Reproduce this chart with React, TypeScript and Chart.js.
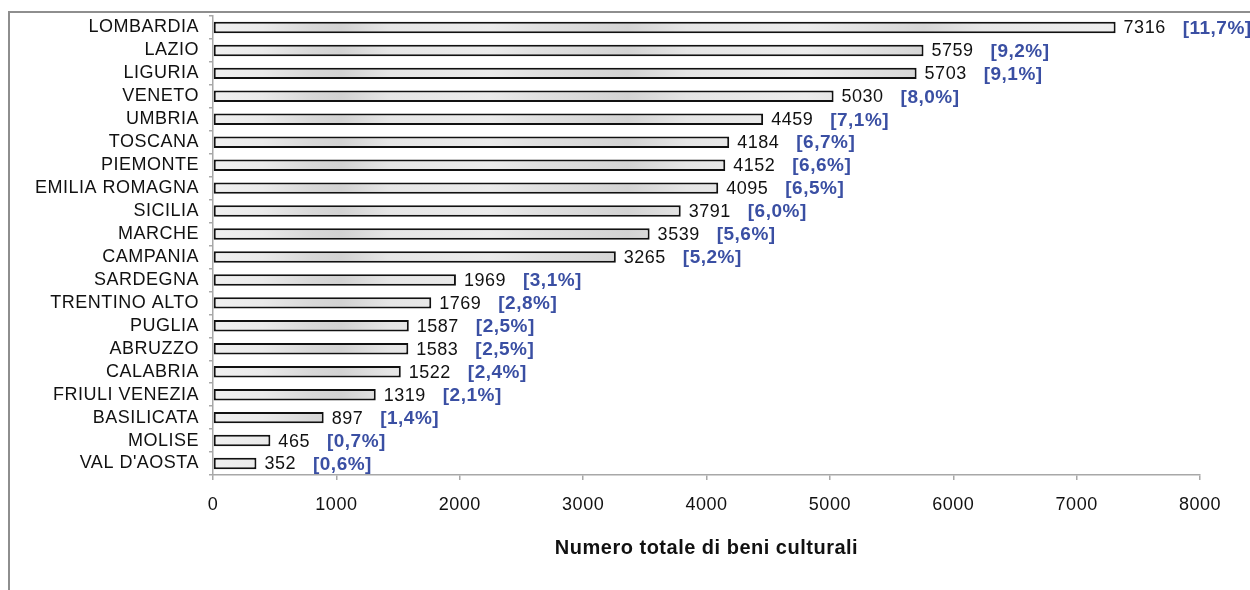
import React, { useEffect, useRef } from "react";
import { Chart, registerables } from "chart.js";

Chart.register(...registerables);

// Regions, ordered by number of cultural assets
const regions: string[] = [
  "LOMBARDIA",
  "LAZIO",
  "LIGURIA",
  "VENETO",
  "UMBRIA",
  "TOSCANA",
  "PIEMONTE",
  "EMILIA ROMAGNA",
  "SICILIA",
  "MARCHE",
  "CAMPANIA",
  "SARDEGNA",
  "TRENTINO ALTO",
  "PUGLIA",
  "ABRUZZO",
  "CALABRIA",
  "FRIULI VENEZIA",
  "BASILICATA",
  "MOLISE",
  "VAL D'AOSTA",
];

// Total cultural assets per region
const totals: number[] = [
  7316, 5759, 5703, 5030, 4459, 4184, 4152, 4095, 3791, 3539, 3265, 1969, 1769,
  1587, 1583, 1522, 1319, 897, 465, 352,
];

// Share of the national total (percent, Italian decimal comma)
const shares: string[] = [
  "11,7", "9,2", "9,1", "8,0", "7,1", "6,7", "6,6", "6,5", "6,0", "5,6", "5,2",
  "3,1", "2,8", "2,5", "2,5", "2,4", "2,1", "1,4", "0,7", "0,6",
];

const xTickMax = 8000;
const xTickStep = 1000;
const xTitle = "Numero totale di beni culturali";

const FONT = "'Liberation Sans', Arial, Helvetica, sans-serif";
const TEXT = "#111111";
const SHARE_BLUE = "#3a4fa3";
const AXIS_GREY = "#a8a8a8";
const TRACKING = "0.5px";

// Slightly wider tracking on every piece of canvas text
const trackingPlugin = {
  id: "tracking",
  beforeUpdate(chart: any) {
    chart.ctx.letterSpacing = TRACKING;
  },
  beforeDraw(chart: any) {
    chart.ctx.letterSpacing = TRACKING;
  },
};

// Value and share labels to the right of each bar
const valueLabelsPlugin = {
  id: "valueLabels",
  afterDatasetsDraw(chart: any) {
    const ctx = chart.ctx as CanvasRenderingContext2D;
    const meta = chart.getDatasetMeta(0);
    ctx.save();
    (ctx as any).letterSpacing = TRACKING;
    ctx.textBaseline = "middle";
    ctx.textAlign = "left";
    meta.data.forEach((bar: any, i: number) => {
      const valueText = String(totals[i]);
      const x0 = bar.x + 8;
      ctx.font = `18px ${FONT}`;
      ctx.fillStyle = TEXT;
      ctx.fillText(valueText, x0, bar.y + 1);
      const w = ctx.measureText(valueText).width;
      ctx.font = `bold 19px ${FONT}`;
      ctx.fillStyle = SHARE_BLUE;
      ctx.fillText(`[${shares[i]}%]`, x0 + w + 17, bar.y + 1);
    });
    ctx.restore();
  },
};

// Mottled light-grey fill running along the bars
let cachedFill: CanvasGradient | null = null;
let cachedKey = "";
function barFill(context: any): CanvasGradient | string {
  const chart = context.chart;
  const area = chart.chartArea;
  if (!area) return "#e6e6e6";
  const key = `${area.left}-${area.right}`;
  if (cachedFill && cachedKey === key) return cachedFill;
  const g = chart.ctx.createLinearGradient(area.left, 0, area.right, 0);
  g.addColorStop(0, "#f0f0f0");
  g.addColorStop(0.05, "#eaeaea");
  g.addColorStop(0.1, "#d8d8d8");
  g.addColorStop(0.13, "#d2d2d2");
  g.addColorStop(0.18, "#e6e6e6");
  g.addColorStop(0.28, "#ebebeb");
  g.addColorStop(0.33, "#e0e0e0");
  g.addColorStop(0.42, "#d3d3d3");
  g.addColorStop(0.48, "#e5e5e5");
  g.addColorStop(0.6, "#ececec");
  g.addColorStop(0.72, "#d6d6d6");
  g.addColorStop(0.78, "#e7e7e7");
  g.addColorStop(0.9, "#ededed");
  g.addColorStop(1, "#e8e8e8");
  cachedFill = g;
  cachedKey = key;
  return g;
}

export default function App() {
  const canvasRef = useRef<HTMLCanvasElement | null>(null);

  useEffect(() => {
    const canvas = canvasRef.current;
    if (!canvas) return;
    cachedFill = null;
    const chart = new Chart(canvas, {
      type: "bar",
      data: {
        labels: regions,
        datasets: [
          {
            data: totals,
            backgroundColor: barFill as any,
            borderColor: "#111111",
            borderWidth: 2,
            borderSkipped: false,
            barPercentage: 0.5,
            categoryPercentage: 1,
          },
        ],
      },
      options: {
        indexAxis: "y",
        animation: false,
        responsive: false,
        devicePixelRatio: 1,
        layout: { padding: { left: 0, right: 50, top: 16, bottom: 0 } },
        plugins: {
          legend: { display: false },
          tooltip: { enabled: false },
        },
        scales: {
          x: {
            min: 0,
            max: xTickMax,
            ticks: {
              stepSize: xTickStep,
              padding: 14,
              color: TEXT,
              font: { family: FONT, size: 18 },
              callback: (v: any) => String(v),
            },
            grid: {
              drawOnChartArea: false,
              drawTicks: true,
              tickLength: 5,
              color: AXIS_GREY,
              lineWidth: 1.5,
            },
            border: { display: true, color: AXIS_GREY, width: 1.5 },
            title: {
              display: true,
              text: xTitle,
              color: TEXT,
              font: { family: FONT, size: 20, weight: "bold" },
              padding: { top: 0, bottom: 30 },
            },
            afterFit: (scale: any) => {
              scale.height = 115;
            },
          },
          y: {
            ticks: {
              autoSkip: false,
              padding: 10,
              color: TEXT,
              font: { family: FONT, size: 18 },
            },
            grid: {
              drawOnChartArea: false,
              drawTicks: true,
              tickLength: 4,
              offset: true,
              color: AXIS_GREY,
              lineWidth: 1.5,
            },
            border: { display: true, color: AXIS_GREY, width: 1.5 },
            afterFit: (scale: any) => {
              scale.width = 213;
              scale.paddingTop = 0;
              scale.paddingBottom = 0;
            },
          },
        },
      } as any,
      plugins: [trackingPlugin, valueLabelsPlugin],
    });
    return () => chart.destroy();
  }, []);

  return (
    <div
      style={{
        position: "fixed",
        left: 0,
        top: 0,
        width: 1250,
        height: 590,
        overflow: "hidden",
        background: "#ffffff",
      }}
    >
      <div
        style={{
          position: "absolute",
          left: 8,
          top: 11,
          width: 1400,
          height: 800,
          border: "2px solid #8e8e8e",
          boxSizing: "border-box",
        }}
      />
      <canvas
        ref={canvasRef}
        width={1250}
        height={590}
        style={{ position: "absolute", left: 0, top: 0, width: 1250, height: 590 }}
      />
    </div>
  );
}
